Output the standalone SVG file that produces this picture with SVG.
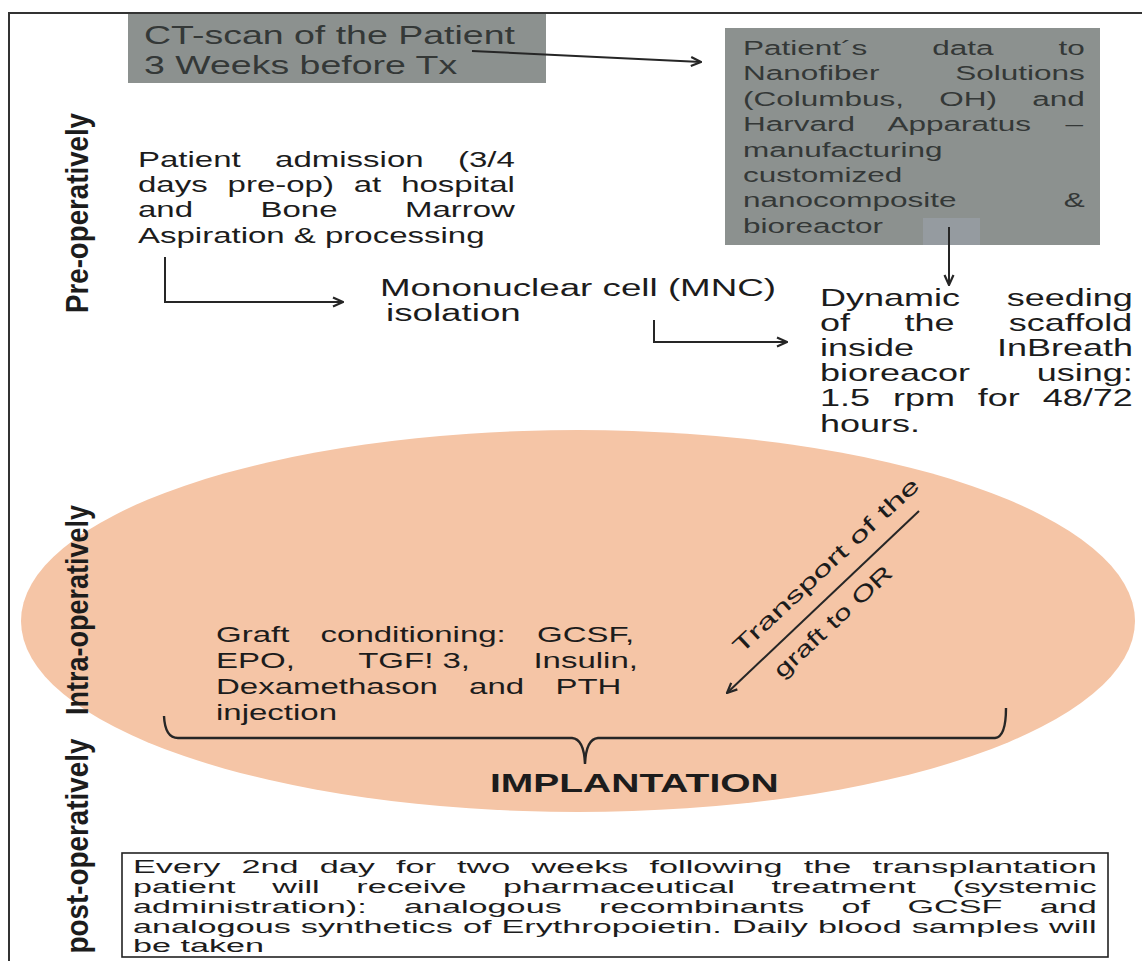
<svg xmlns="http://www.w3.org/2000/svg" width="1142" height="961" viewBox="0 0 1142 961">
<style>
.t{font-family:"Liberation Sans",Arial,sans-serif;fill:#1c1c1c}
.g{fill:#343837}
.b{font-weight:bold}
.conn{stroke:#262626;stroke-width:2;fill:none}
.box{fill:#8c918f}
</style>
<defs>
<marker id="ah" viewBox="0 0 12 12" refX="11" refY="6" markerWidth="12" markerHeight="12" markerUnits="userSpaceOnUse" orient="auto">
<path d="M1,1.5 L11,6 L1,10.5" fill="none" stroke="#262626" stroke-width="2.2"/>
</marker>
</defs>
<rect width="1142" height="961" fill="#ffffff"/>
<g id="frame" fill="none" stroke="#333" stroke-width="2">
<path d="M9,961 L9,13 L1142,13"/>
</g>
<g id="ellipse-zone">
<ellipse cx="578" cy="621" rx="557" ry="191" fill="#f5c5a6"/>
</g>
<g id="phase-labels" class="t b">
<text font-size="22" text-anchor="middle" textLength="200" lengthAdjust="spacingAndGlyphs" transform="translate(88,213) rotate(-90) scale(1,1.4)">Pre-operatively</text>
<text font-size="22" text-anchor="middle" textLength="210" lengthAdjust="spacingAndGlyphs" transform="translate(88,610) rotate(-90) scale(1,1.4)">Intra-operatively</text>
<text font-size="22" text-anchor="middle" textLength="215" lengthAdjust="spacingAndGlyphs" transform="translate(88,846) rotate(-90) scale(1,1.4)">post-operatively</text>
</g>
<g id="ct-scan">
<rect class="box" x="128" y="14" width="418" height="69"/>
<text class="t g" font-size="25" transform="scale(1.5,1)"><tspan x="96" y="44">CT-scan of the Patient</tspan><tspan x="96" y="74">3 Weeks before Tx</tspan></text>
</g>
<g id="patient-data">
<rect class="box" x="725" y="28" width="375" height="217"/>
<rect x="923" y="218" width="57" height="27" fill="#959ba0"/>
<g class="t g" font-size="21" transform="scale(1.5,1)">
<text x="495.33" y="55" word-spacing="37.5">Patient´s data to</text>
<text x="495.33" y="80.4" word-spacing="44.75">Nanofiber Solutions</text>
<text x="495.33" y="105.8" word-spacing="17.7">(Columbus, OH) and</text>
<text x="495.33" y="131.2" word-spacing="17.1">Harvard Apparatus –</text>
<text x="495.33" y="156.6">manufacturing</text>
<text x="495.33" y="182">customized</text>
<text x="495.33" y="207.4" word-spacing="65.75">nanocomposite &amp;</text>
<text x="495.33" y="232.8">bioreactor</text>
</g>
</g>
<g id="admission">
<g class="t" font-size="22" transform="scale(1.5,1)">
<text x="92" y="167" word-spacing="16.84">Patient admission (3/4</text>
<text x="92" y="192" word-spacing="7.15">days pre-op) at hospital</text>
<text x="92" y="217.5" word-spacing="38.85">and Bone Marrow</text>
<text x="92" y="243">Aspiration &amp; processing</text>
</g>
</g>
<g id="mnc">
<g class="t" font-size="24.5" transform="scale(1.5,1)">
<text x="253.33" y="296">Mononuclear cell (MNC)</text>
<text x="257.33" y="321">isolation</text>
</g>
</g>
<g id="seeding">
<g class="t" font-size="24" transform="scale(1.5,1)">
<text x="546.67" y="306" word-spacing="24.6">Dynamic seeding</text>
<text x="546.67" y="331" word-spacing="29.6">of the scaffold</text>
<text x="546.67" y="356" word-spacing="48.6">inside InBreath</text>
<text x="546.67" y="381" word-spacing="37.9">bioreacor using:</text>
<text x="546.67" y="406" word-spacing="8.6">1.5 rpm for 48/72</text>
<text x="546.67" y="432">hours.</text>
</g>
</g>
<g id="graft-conditioning">
<g class="t" font-size="22" transform="scale(1.5,1)">
<text x="144" y="642" word-spacing="14.73">Graft conditioning: GCSF,</text>
<text y="668"><tspan x="144">EPO,</tspan><tspan x="238.8">TGF! 3,</tspan><tspan x="355.6">Insulin,</tspan></text>
<text x="144" y="694" word-spacing="14.73">Dexamethason and PTH</text>
<text x="144" y="720">injection</text>
</g>
</g>
<g id="transport-label" class="t" font-size="22">
<text text-anchor="middle" textLength="246" lengthAdjust="spacingAndGlyphs" transform="translate(831,571) rotate(-43)">Transport of the</text>
<text text-anchor="middle" textLength="153" lengthAdjust="spacingAndGlyphs" transform="translate(838,627) rotate(-43)">graft to OR</text>
</g>
<g id="implantation">
<text class="t b" font-size="26" x="326.67" y="792" transform="scale(1.5,1)">IMPLANTATION</text>
</g>
<g id="postop">
<rect x="122" y="853" width="986" height="104" fill="#ffffff" stroke="#222" stroke-width="1.6"/>
<g class="t" font-size="18" transform="scale(1.9,1)">
<text x="70" y="873.5" word-spacing="6.15">Every 2nd day for two weeks following the transplantation</text>
<text x="70" y="893.5" word-spacing="14.26">patient will receive pharmaceutical treatment (systemic</text>
<text x="70" y="913.5" word-spacing="14.65">administration): analogous recombinants of GCSF and</text>
<text x="70" y="933.5" word-spacing="0.31">analogous synthetics of Erythropoietin. Daily blood samples will</text>
<text x="70" y="952.5">be taken</text>
</g>
</g>
<g id="connectors" class="conn">
<path d="M472,51 L701,62" marker-end="url(#ah)"/>
<path d="M949,227 L949,285" marker-end="url(#ah)"/>
<path d="M165,257 L165,302 L343,302" marker-end="url(#ah)"/>
<path d="M654,320 L654,342 L787,342" marker-end="url(#ah)"/>
<path d="M919,511 L727,693" marker-end="url(#ah)"/>
<path d="M164,716 Q165,738 178,738 L572,738 Q584,739 585,764 Q586,739 598,738 L995,738 Q1006,737 1006,708" stroke-width="2.4"/>
</g>
</svg>
